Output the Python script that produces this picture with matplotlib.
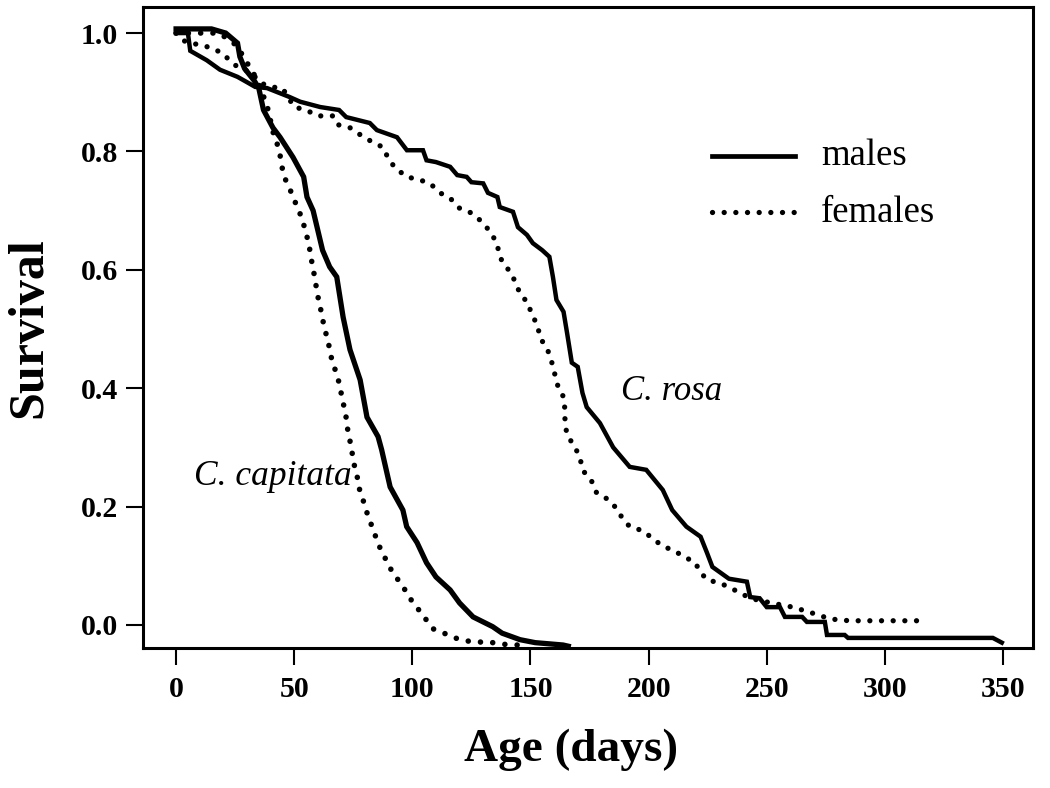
import matplotlib
matplotlib.use("Agg")
import matplotlib.pyplot as plt
from matplotlib.ticker import FormatStrFormatter

plt.rcParams["font.family"] = ["Liberation Serif", "DejaVu Serif"]

# C. capitata, males (solid)
cc_m_days = [0, 15, 21, 26, 27, 29, 33, 35, 37, 41, 44, 49.5, 54, 55.4, 58,
             62, 65, 68, 70.7, 73.6, 77.9, 80.8, 85.5, 87, 90.6, 96, 97.6, 102,
             106, 110, 116, 120, 125.7, 134, 138, 145.6, 152, 163.8, 166]
cc_m_surv = [1.007, 1.007, 1.0, 0.983, 0.96, 0.94, 0.92, 0.907, 0.87, 0.84,
             0.824, 0.79, 0.757, 0.723, 0.70, 0.633, 0.605, 0.588, 0.52, 0.465,
             0.414, 0.351, 0.318, 0.296, 0.233, 0.194, 0.166, 0.139, 0.105,
             0.081, 0.059, 0.037, 0.0135, -0.003, -0.014, -0.025, -0.03,
             -0.034, -0.036]

# C. capitata, females (dotted)
cc_f_days = [0, 18, 24, 27, 30, 33, 36, 39, 41, 42.7, 44, 44.8, 46, 48, 50,
             52, 53.7, 55, 56.3, 57, 58, 58.8, 59.7, 60.5, 61.8, 62.6, 64, 65,
             66, 67.7, 69, 70, 71, 72, 72.6, 73.6, 74.5, 75.3, 76.6, 77.4, 79,
             80.4, 82, 83.8, 85.5, 87.6, 89.7, 92, 95, 97.7, 100, 103, 106, 109,
             113.4, 118, 122.7, 127.8, 132.5, 137, 142, 148]
cc_f_surv = [1.0, 1.0, 0.985, 0.97, 0.95, 0.93, 0.905, 0.87, 0.833, 0.814,
             0.794, 0.774, 0.755, 0.738, 0.718, 0.70, 0.681, 0.662, 0.642,
             0.622, 0.603, 0.583, 0.563, 0.544, 0.524, 0.503, 0.485, 0.466,
             0.446, 0.427, 0.409, 0.389, 0.37, 0.35, 0.331, 0.311, 0.291,
             0.272, 0.252, 0.232, 0.213, 0.194, 0.176, 0.157, 0.137, 0.12,
             0.103, 0.086, 0.071, 0.054, 0.039, 0.024, 0.008, -0.007, -0.014,
             -0.022, -0.027, -0.029, -0.029, -0.032, -0.034, -0.034]

# C. rosa, males (solid)
cr_m_days = [0, 5, 6, 13, 18.6, 26, 30, 33.5, 38.5, 48, 52.5, 61, 69, 72, 82,
             85, 93.5, 97.7, 104.5, 106, 110, 116, 119, 123, 125, 130, 132, 136,
             137, 142.6, 144.7, 148.5, 151, 155, 158, 159.5, 161, 164, 165.5,
             167.5, 170, 172, 173.8, 179.4, 185, 192, 199, 206, 210, 216, 222,
             224.7, 227, 234, 241.6, 243, 247, 250, 255.6, 257.7, 265, 267,
             274.6, 275.5, 283, 284.4, 345.7, 349.5]
cr_m_surv = [1.0, 1.0, 0.97, 0.954, 0.938, 0.926, 0.917, 0.909, 0.907, 0.892,
             0.884, 0.875, 0.87, 0.858, 0.848, 0.836, 0.824, 0.802, 0.802,
             0.785, 0.782, 0.774, 0.76, 0.757, 0.748, 0.746, 0.73, 0.723,
             0.706, 0.698, 0.672, 0.659, 0.645, 0.633, 0.622, 0.588, 0.549,
             0.529, 0.493, 0.443, 0.436, 0.392, 0.368, 0.341, 0.30, 0.267,
             0.262, 0.228, 0.194, 0.166, 0.149, 0.122, 0.098, 0.078, 0.073,
             0.047, 0.045, 0.03, 0.03, 0.0135, 0.0135, 0.005, 0.005, -0.017,
             -0.017, -0.022, -0.022, -0.03]

# C. rosa, females (dotted)
cr_f_days = [0, 4, 10, 15, 20, 23, 27, 32, 35, 40, 45, 50, 55, 60, 66.5, 68.6,
             73.6, 78, 83, 87.6, 89.7, 92.7, 97.7, 103, 107.5, 111.7, 116, 120,
             125, 129.5, 133, 135.8, 137, 139, 142, 144, 146, 149, 150.5, 153,
             154, 157, 159, 160.4, 161.7, 164, 164.6, 164.6, 165.5, 169, 171,
             172, 176, 178, 182, 185, 189, 192, 197.6, 202, 206, 211, 215,
             219.6, 221.8, 224.7, 230, 235, 239.5, 244, 252, 261, 266, 271.7,
             276.8, 285, 317]
cr_f_surv = [1.0, 0.985, 0.98, 0.975, 0.965, 0.952, 0.94, 0.934, 0.917, 0.909,
             0.907, 0.875, 0.87, 0.86, 0.86, 0.845, 0.84, 0.828, 0.816, 0.807,
             0.789, 0.772, 0.757, 0.752, 0.746, 0.73, 0.721, 0.704, 0.696,
             0.681, 0.664, 0.645, 0.622, 0.608, 0.594, 0.574, 0.557, 0.544,
             0.524, 0.507, 0.485, 0.468, 0.444, 0.422, 0.402, 0.385, 0.363,
             0.341, 0.321, 0.299, 0.282, 0.262, 0.242, 0.223, 0.214, 0.204,
             0.18, 0.166, 0.159, 0.145, 0.133, 0.125, 0.115, 0.106, 0.09,
             0.076, 0.071, 0.062, 0.052, 0.044, 0.037, 0.03, 0.024, 0.017,
             0.01, 0.007, 0.007]

x_ticks = [0, 50, 100, 150, 200, 250, 300, 350]
y_ticks = [0.0, 0.2, 0.4, 0.6, 0.8, 1.0]

DOTTED = (0, (0.01, 2.2))

fig = plt.figure(figsize=(10.5, 7.88), dpi=100)
ax = fig.add_axes([0.1362, 0.1777, 0.8476, 0.8134])

ax.plot(cc_m_days, cc_m_surv, color="black", lw=3.8, solid_joinstyle="miter")
ax.plot(cr_m_days, cr_m_surv, color="black", lw=3.2, solid_joinstyle="miter")
ax.plot(cc_f_days, cc_f_surv, color="black", lw=4.0, linestyle=DOTTED,
        dash_capstyle="round")
ax.plot(cr_f_days, cr_f_surv, color="black", lw=3.8, linestyle=DOTTED,
        dash_capstyle="round")

# legend drawn by hand, as in the original
ax.plot([227, 262], [0.793, 0.793], color="black", lw=3.4)
ax.plot([227, 262], [0.697, 0.697], color="black", lw=3.8, linestyle=DOTTED,
        dash_capstyle="round")
ax.text(273, 0.793, "males", fontsize=26.5, va="center", ha="left")
ax.text(273, 0.697, "females", fontsize=26.5, va="center", ha="left")

ax.text(188.5, 0.38, "C. rosa", fontsize=25, style="italic", va="baseline")
ax.text(7.5, 0.236, "C. capitata", fontsize=25.5, style="italic", va="baseline")

ax.set_xlim(-14, 362.7)
ax.set_ylim(-0.039, 1.044)
ax.set_xticks(x_ticks)
ax.set_yticks(y_ticks)
ax.yaxis.set_major_formatter(FormatStrFormatter("%.1f"))
ax.tick_params(axis="both", length=12, width=1.5, labelsize=21.5)
ax.tick_params(axis="x", pad=8)
ax.tick_params(axis="y", pad=6)
for lab in ax.get_xticklabels() + ax.get_yticklabels():
    lab.set_fontweight("bold")
for sp in ax.spines.values():
    sp.set_linewidth(2.2)

fig.text(571 / 1050, 1 - 750 / 788, "Age (days)", fontsize=34, fontweight="bold",
         ha="center", va="center")
fig.text(29 / 1050, 1 - 328 / 788, "Survival", fontsize=36, fontweight="bold",
         ha="center", va="center", rotation=90)

fig.savefig("out.png", dpi=100)
